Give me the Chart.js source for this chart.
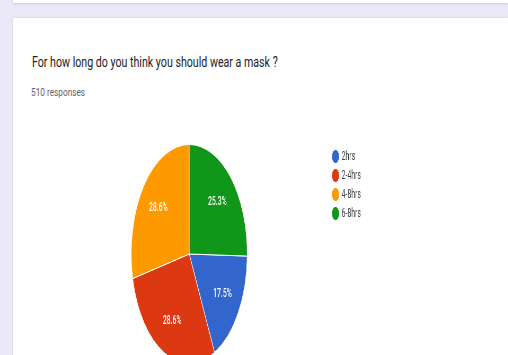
<!DOCTYPE html>
<html>
<head>
<meta charset="utf-8">
<script src="https://cdn.jsdelivr.net/npm/chart.js"></script>
<style>
  html, body { margin: 0; padding: 0; width: 508px; height: 355px; overflow: hidden; background: #ebe9f7; font-family: Roboto, Arial, sans-serif; }
  .card-top { position: absolute; left: 13px; right: 0; top: -10px; height: 13px; background: #fff; box-shadow: 0 1px 2px rgba(0,0,0,0.12); }
  .card { position: absolute; left: 13px; right: 0; top: 18px; height: 360px; background: #fff; box-shadow: 0 0 2px rgba(0,0,0,0.12); }
  .title { position: absolute; left: 32px; top: 54px; font-size: 14px; color: #202124; white-space: nowrap; transform: scaleX(0.76); transform-origin: left top; }
  .count { position: absolute; left: 31px; top: 86px; font-size: 11px; color: #5f6368; white-space: nowrap; transform: scaleX(0.75); transform-origin: left top; }
  .pie { position: absolute; left: 0; top: 134px; transform: scaleX(0.53); transform-origin: left top; }
</style>
</head>
<body>
<div class="card-top"></div>
<div class="card"></div>
<div class="title">For how long do you think you should wear a mask ?</div>
<div class="count">510 responses</div>
<div class="pie"><canvas id="myChart" width="691" height="242"></canvas></div>
<script>
const labels = ['2hrs', '2-4hrs', '4-8hrs', '6-8hrs'];
const percents = [17.5, 28.6, 28.6, 25.3];
const colors = ['#3366cc', '#dc3912', '#ff9900', '#109618'];

// white percentage text inside each slice
const sliceLabels = {
  id: 'sliceLabels',
  afterDatasetsDraw(chart) {
    const ctx = chart.ctx;
    const meta = chart.getDatasetMeta(0);
    ctx.save();
    ctx.fillStyle = '#fff';
    ctx.font = '500 13px Roboto';
    ctx.textAlign = 'center';
    ctx.textBaseline = 'middle';
    meta.data.forEach((arc, i) => {
      const p = arc.getProps(['x', 'y', 'startAngle', 'endAngle', 'outerRadius'], true);
      const mid = (p.startAngle + p.endAngle) / 2;
      const r = p.outerRadius * 0.68;
      ctx.fillText(percents[i].toFixed(1) + '%', p.x + Math.cos(mid) * r, p.y + Math.sin(mid) * r);
    });
    ctx.restore();
  }
};

const ctx = document.getElementById('myChart').getContext('2d');
const myChart = new Chart(ctx, {
  type: 'pie',
  data: {
    labels: labels,
    datasets: [{
      data: percents,
      backgroundColor: colors,
      borderColor: '#fff',
      borderWidth: 1
    }]
  },
  options: {
    responsive: false,
    animation: false,
    // last slice ends at 12 o'clock
    rotation: percents[3] / 100 * 360,
    layout: { padding: { left: 92, top: 10, bottom: 12 } },
    plugins: {
      tooltip: { enabled: false },
      legend: {
        position: 'right',
        align: 'start',
        labels: {
          usePointStyle: true,
          pointStyle: 'circle',
          boxWidth: 10,
          boxHeight: 10,
          padding: 6,
          color: '#3c4043',
          font: { family: 'Roboto', size: 13 }
        }
      }
    }
  },
  plugins: [sliceLabels]
});
</script>
</body>
</html>
